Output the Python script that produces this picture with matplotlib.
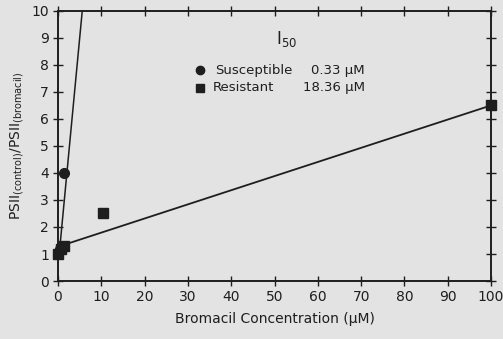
import matplotlib
matplotlib.use("Agg")
import matplotlib.pyplot as plt

# measured points
susc_x = [0.0, 0.5, 1.5]
susc_y = [1.0, 1.2, 4.0]
res_x = [0.0, 0.6, 1.5, 10.5, 100.0]
res_y = [1.0, 1.2, 1.3, 2.5, 6.5]

# fitted lines
susc_fit_x = [0.4, 5.6]
susc_fit_y = [1.2, 10.0]
res_fit_x = [0.6, 100.0]
res_fit_y = [1.3, 6.5]

xticks = list(range(0, 101, 10))
yticks = list(range(0, 11))

bg = "#e3e3e3"
ink = "#1e1e1e"

fig = plt.figure(figsize=(5.03, 3.39), dpi=100, facecolor=bg)
ax = fig.add_axes([0.1153, 0.171, 0.861, 0.797])
ax.set_facecolor(bg)

ax.plot(susc_fit_x, susc_fit_y, color=ink, lw=1.1, clip_on=False)
ax.plot(res_fit_x, res_fit_y, color=ink, lw=1.3, clip_on=False)
ax.plot(susc_x, susc_y, "o", color=ink, ms=7, clip_on=False, zorder=5)
ax.plot(res_x, res_y, "s", color=ink, ms=7, clip_on=False, zorder=5)

ax.set_xlim(0, 100)
ax.set_ylim(0, 10)
ax.set_xticks(xticks)
ax.set_yticks(yticks)
ax.tick_params(direction="inout", length=7, width=1.0, colors=ink,
               labelsize=10, top=True, right=True, pad=3)
for s in ax.spines.values():
    s.set_linewidth(1.4)
    s.set_color(ink)

ax.set_xlabel("Bromacil Concentration (μM)", fontsize=10, color=ink, labelpad=6)
ax.set_ylabel("PSII$_{\\mathrm{(control)}}$/PSII$_{\\mathrm{(bromacil)}}$",
              fontsize=10, color=ink, labelpad=4)

# I50 legend block
ax.text(0.527, 0.895, "I$_{50}$", transform=ax.transAxes, fontsize=12,
        color=ink, ha="center", va="center")
ax.plot([0.328], [0.781], "o", color=ink, ms=6, transform=ax.transAxes)
ax.plot([0.328], [0.715], "s", color=ink, ms=6, transform=ax.transAxes)
ax.text(0.363, 0.781, "Susceptible", transform=ax.transAxes, fontsize=9.5,
        color=ink, ha="left", va="center")
ax.text(0.358, 0.715, "Resistant", transform=ax.transAxes, fontsize=9.5,
        color=ink, ha="left", va="center")
ax.text(0.709, 0.781, "0.33 μM", transform=ax.transAxes, fontsize=9.5,
        color=ink, ha="right", va="center")
ax.text(0.709, 0.715, "18.36 μM", transform=ax.transAxes, fontsize=9.5,
        color=ink, ha="right", va="center")

fig.savefig("out.png", dpi=100, facecolor=bg)
